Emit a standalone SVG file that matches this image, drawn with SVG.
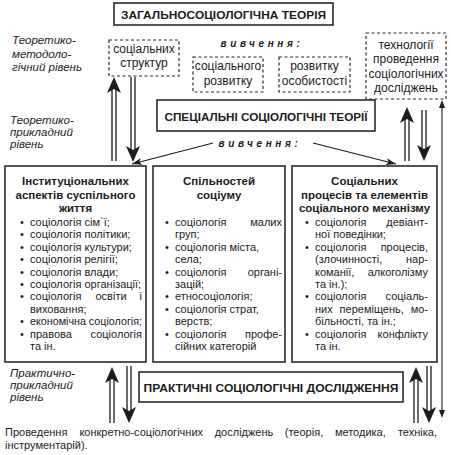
<svg xmlns="http://www.w3.org/2000/svg" width="451" height="455" viewBox="0 0 451 455">
<style>
.box{fill:#fff;stroke:#1c1c1c;stroke-width:1.5}
.dash{fill:#fff;stroke:#2a2a2a;stroke-width:1.2;stroke-dasharray:3 2.5}
text{font-family:"Liberation Sans",Arial,sans-serif;fill:#1c1c1c}
.cap{font-size:11.5px;font-weight:bold}
.lab{font-size:11.5px;font-style:italic}
.dt{font-size:12px;text-anchor:middle}
.viv{font-size:10px;font-weight:bold;font-style:italic;letter-spacing:3.6px;text-anchor:middle}
.ti{font-size:11.5px;font-weight:bold;text-anchor:middle}
.b{font-size:11px}
.e{text-anchor:end}
.sh{stroke:#1c1c1c;stroke-width:1.3;fill:none}
.hd{fill:#1c1c1c;stroke:none}
.thin{stroke:#1c1c1c;stroke-width:1.1;fill:none}
</style>
<defs>
<marker id="ah" viewBox="0 0 10 7" refX="10" refY="3.5" markerWidth="10" markerHeight="7" markerUnits="userSpaceOnUse" orient="auto">
<path d="M0,0 L10,3.5 L0,7 L2.5,3.5 Z" fill="#1c1c1c"/>
</marker>
</defs>

<g id="labels">
<text class="lab" x="12" y="44">Теоретико-</text>
<text class="lab" x="12" y="58">методоло-</text>
<text class="lab" x="12" y="71">гічний рівень</text>
<text class="lab" x="10" y="124">Теоретико-</text>
<text class="lab" x="10" y="136">прикладний</text>
<text class="lab" x="10" y="148">рівень</text>
<text class="lab" x="10" y="377">Практично-</text>
<text class="lab" x="10" y="389">прикладний</text>
<text class="lab" x="10" y="401">рівень</text>
</g>

<g id="general-theory">
<rect class="box" x="114" y="3" width="219" height="22"/>
<text class="cap" x="223.5" y="19" text-anchor="middle" textLength="205" lengthAdjust="spacingAndGlyphs">ЗАГАЛЬНОСОЦІОЛОГІЧНА ТЕОРІЯ</text>
</g>

<g id="study-1">
<text class="viv" x="262" y="47">вивчення:</text>
</g>

<g id="social-structures">
<rect class="dash" x="109" y="40" width="70" height="36"/>
<text class="dt" x="144" y="53">соціальних</text>
<text class="dt" x="144" y="67">структур</text>
</g>

<g id="social-development">
<rect class="dash" x="193" y="57" width="70" height="35"/>
<text class="dt" x="228" y="70">соціального</text>
<text class="dt" x="228" y="85">розвитку</text>
</g>

<g id="personality-development">
<rect class="dash" x="279" y="57" width="71" height="35"/>
<text class="dt" x="314.5" y="70">розвитку</text>
<text class="dt" x="314.5" y="85">особистості</text>
</g>

<g id="technologies">
<rect class="dash" x="366" y="33" width="80" height="66"/>
<text class="dt" x="406" y="49">технології</text>
<text class="dt" x="406" y="63">проведення</text>
<text class="dt" x="406" y="78">соціологічних</text>
<text class="dt" x="406" y="92">досліджень</text>
</g>

<g id="special-theories">
<rect class="box" x="157" y="100" width="218" height="31"/>
<text class="cap" x="266" y="121" text-anchor="middle" textLength="203" lengthAdjust="spacingAndGlyphs">СПЕЦІАЛЬНІ СОЦІОЛОГІЧНІ ТЕОРІЇ</text>
</g>

<g id="study-2">
<text class="viv" x="260" y="147">вивчення:</text>
</g>

<g id="institutional">
<rect class="box" x="5" y="166" width="141" height="196"/>
<text class="ti" x="75.5" y="185">Інституціональних</text>
<text class="ti" x="75.5" y="199">аспектів суспільного</text>
<text class="ti" x="75.5" y="212">життя</text>
<text class="b" x="20" y="226">•</text><text class="b" x="30" y="226">соціологія сім`ї;</text>
<text class="b" x="20" y="238.4">•</text><text class="b" x="30" y="238.4">соціологія політики;</text>
<text class="b" x="20" y="250.8">•</text><text class="b" x="30" y="250.8">соціологія культури;</text>
<text class="b" x="20" y="263.2">•</text><text class="b" x="30" y="263.2">соціологія релігії;</text>
<text class="b" x="20" y="275.6">•</text><text class="b" x="30" y="275.6">соціологія влади;</text>
<text class="b" x="20" y="288">•</text><text class="b" x="30" y="288">соціологія організації;</text>
<text class="b" x="20" y="300.4">•</text><text class="b" x="30" y="300.4">соціологія</text><text class="b" x="95.5" y="300.4">освіти</text><text class="b e" x="142" y="300.4">і</text>
<text class="b" x="30" y="312.8">виховання;</text>
<text class="b" x="20" y="325.2">•</text><text class="b" x="30" y="325.2" textLength="112" lengthAdjust="spacingAndGlyphs">економічна соціологія;</text>
<text class="b" x="20" y="337.6">•</text><text class="b" x="30" y="337.6">правова</text><text class="b e" x="142" y="337.6">соціологія</text>
<text class="b" x="30" y="350">та ін.</text>
</g>

<g id="communities">
<rect class="box" x="153" y="166" width="132" height="196"/>
<text class="ti" x="219" y="185">Спільностей</text>
<text class="ti" x="219" y="199">соціуму</text>
<text class="b" x="165" y="226">•</text><text class="b" x="175" y="226">соціологія</text><text class="b e" x="282" y="226">малих</text>
<text class="b" x="175" y="238.4">груп;</text>
<text class="b" x="165" y="250.8">•</text><text class="b" x="175" y="250.8">соціологія міста,</text>
<text class="b" x="175" y="263.2">села;</text>
<text class="b" x="165" y="275.6">•</text><text class="b" x="175" y="275.6">соціологія</text><text class="b e" x="282" y="275.6">органі-</text>
<text class="b" x="175" y="288">зацій;</text>
<text class="b" x="165" y="300.4">•</text><text class="b" x="175" y="300.4">етносоціологія;</text>
<text class="b" x="165" y="312.8">•</text><text class="b" x="175" y="312.8">соціологія страт,</text>
<text class="b" x="175" y="325.2">верств;</text>
<text class="b" x="165" y="337.6">•</text><text class="b" x="175" y="337.6">соціологія</text><text class="b e" x="282" y="337.6">профе-</text>
<text class="b" x="175" y="350">сійних категорій</text>
</g>

<g id="processes">
<rect class="box" x="292" y="166" width="145" height="196"/>
<text class="ti" x="364.5" y="185">Соціальних</text>
<text class="ti" x="364.5" y="199">процесів та елементів</text>
<text class="ti" x="364.5" y="212">соціального механізму</text>
<text class="b" x="305" y="226">•</text><text class="b" x="315" y="226">соціологія</text><text class="b e" x="428" y="226">девіант-</text>
<text class="b" x="315" y="238.4">ної поведінки;</text>
<text class="b" x="305" y="250.8">•</text><text class="b" x="315" y="250.8">соціологія</text><text class="b e" x="428" y="250.8">процесів,</text>
<text class="b" x="315" y="263.2">(злочинності,</text><text class="b e" x="428" y="263.2">нар-</text>
<text class="b" x="315" y="275.6">команії,</text><text class="b e" x="428" y="275.6">алкоголізму</text>
<text class="b" x="315" y="288">та ін.);</text>
<text class="b" x="305" y="300.4">•</text><text class="b" x="315" y="300.4">соціологія</text><text class="b e" x="428" y="300.4">соціаль-</text>
<text class="b" x="315" y="312.8">них</text><text class="b" x="339.6" y="312.8">переміщень,</text><text class="b e" x="428" y="312.8">мо-</text>
<text class="b" x="315" y="325.2">більності, та ін.;</text>
<text class="b" x="305" y="337.6">•</text><text class="b" x="315" y="337.6">соціологія</text><text class="b e" x="428" y="337.6">конфлікту</text>
<text class="b" x="315" y="350">та ін.</text>
</g>

<g id="practical-research">
<rect class="box" x="139" y="372" width="264" height="30"/>
<text class="cap" x="271" y="392" text-anchor="middle" textLength="255" lengthAdjust="spacingAndGlyphs">ПРАКТИЧНІ СОЦІОЛОГІЧНІ ДОСЛІДЖЕННЯ</text>
</g>

<g id="footer">
<text class="b" y="436"><tspan x="5">Проведення</tspan><tspan x="79.4">конкретно-соціологічних</tspan><tspan x="214.7">досліджень</tspan><tspan x="284.8">(теорія,</tspan><tspan x="334.9">методика,</tspan></text>
<text class="b e" x="437" y="436">техніка,</text>
<text class="b" x="5" y="449">інструментарій).</text>
</g>

<g id="connectors">
<line class="thin" x1="213" y1="143" x2="132" y2="164" marker-end="url(#ah)"/>
<line class="thin" x1="313" y1="143" x2="396" y2="164" marker-end="url(#ah)"/>
<path class="sh" d="M112,89 V161 M116,89 V161"/>
<path class="hd" d="M114,77 L107,93 L114,89 L121,93 Z"/>
<path class="sh" d="M131,77 V150 M135,77 V150"/>
<path class="hd" d="M133,162 L126,146 L133,150 L140,146 Z"/>
<path class="sh" d="M405,119 V161 M409,119 V161"/>
<path class="hd" d="M407,107 L400,123 L407,119 L414,123 Z"/>
<path class="sh" d="M422,110 V149 M426,110 V149"/>
<path class="hd" d="M424,161 L417,145 L424,149 L431,145 Z"/>
<path class="sh" d="M110,379 V423 M114,379 V423"/>
<path class="hd" d="M112,367 L105,383 L112,379 L119,383 Z"/>
<path class="sh" d="M127,366 V411 M131,366 V411"/>
<path class="hd" d="M129,423 L122,407 L129,411 L136,407 Z"/>
<path class="sh" d="M414,379 V423 M418,379 V423"/>
<path class="hd" d="M416,367 L409,383 L416,379 L423,383 Z"/>
<path class="sh" d="M427,366 V411 M431,366 V411"/>
<path class="hd" d="M429,423 L422,407 L429,411 L436,407 Z"/>
<line class="thin" x1="442" y1="106" x2="442" y2="412"/>
<path class="hd" d="M442,100 L439,108 L445,108 Z"/>
<path class="hd" d="M442,418 L439,410 L445,410 Z"/>
</g>
</svg>
